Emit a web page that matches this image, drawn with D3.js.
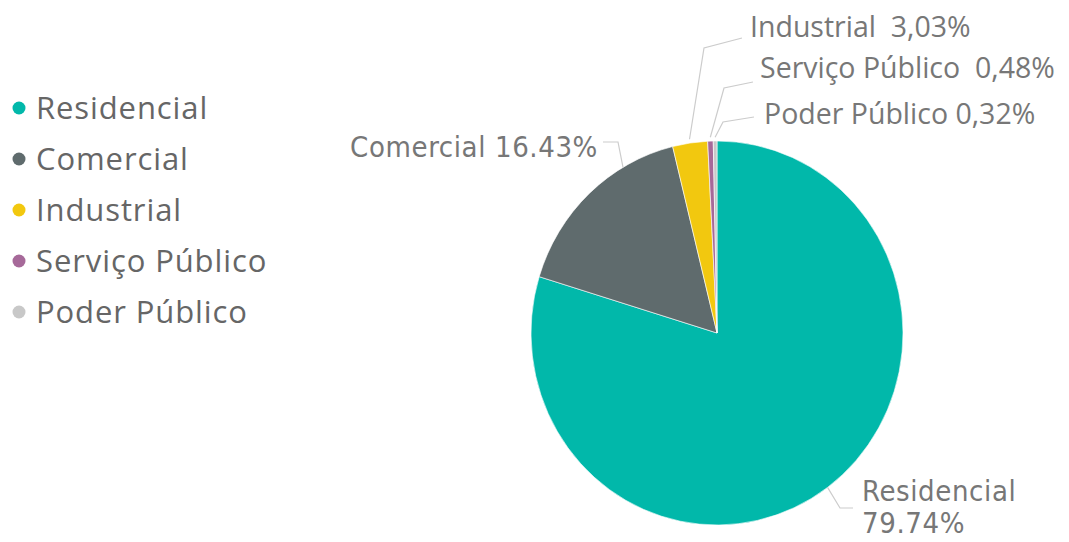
<!DOCTYPE html>
<html><head><meta charset="utf-8">
<script src="https://cdn.jsdelivr.net/npm/d3@7"></script>
<style>body{margin:0;background:#fff;} svg{display:block;}</style>
</head><body>
<svg id="c" width="1069" height="542"></svg>
<script>
const categories = ["Residencial","Comercial","Industrial","Serviço Público","Poder Público"];
const values = [79.74, 16.43, 3.03, 0.48, 0.32];
const valueLabels = ["79.74%","16.43%","3,03%","0,48%","0,32%"];
const colors = ["#01B8AA","#5F6B6D","#F2C80F","#A66999","#C8C8C8"];

const svg = d3.select("#c");
const cx = 717, cy = 333, rx = 186, ry = 192;

const pie = d3.pie().sort(null).value(d => d)(values);
const arc = d3.arc().innerRadius(0).outerRadius(rx);
const color = d3.scaleOrdinal().domain(categories).range(colors);

const g = svg.append("g").attr("transform", `translate(${cx},${cy}) scale(1,${ry/rx})`);
g.selectAll("path").data(pie).join("path")
  .attr("d", arc).attr("fill", (d,i) => color(categories[i]))
  .attr("stroke", "#fff").attr("stroke-width", 0.6);

// legend
const leg = svg.append("g");
const legY = d3.scalePoint().domain(categories).range([108, 312]);
categories.forEach(c => {
  leg.append("circle").attr("cx", 19).attr("cy", legY(c)).attr("r", 6.5).attr("fill", color(c));
  leg.append("text").attr("x", 36).attr("y", legY(c)).attr("dy", "0.36em")
    .attr("font-family", "'Open Sans', sans-serif").attr("font-size", 31)
    .attr("letter-spacing", 0.9)
    .attr("fill", "#666").text(c);
});

const din = "'DejaVu Sans Condensed','DejaVu Sans',sans-serif";
const seg = "'Open Sans',sans-serif";
// label layout: text position, where on the slice the leader starts, elbow offset (relative to text start)
const layout = [
  {x: 862, y: 501, frac: 0.5, lines: 2, lh: 32, font: din, size: 29, ls: 0.6, sep: " ", elbow: [-22, 7], end: [-9, 7]},
  {x: 598, y: 157, frac: 0.72, anchor: "end", font: din, size: 29, ls: 0.6, sep: " ", elbow: [20, -15], end: [5, -15]},
  {x: 750, y: 37, frac: 0.5, font: seg, size: 28.5, ls: 0, sep: "\u00a0\u00a0", elbow: [-46, 11], end: [-8, 1]},
  {x: 760, y: 78, frac: 0.5, font: seg, size: 28.5, ls: 0, sep: "\u00a0\u00a0", elbow: [-36, 10], end: [-7, 4]},
  {x: 764, y: 124, frac: 0.5, font: seg, size: 28.5, ls: 0, sep: " ", elbow: [-41, -2], end: [-10, -7]}
];
const pt = (a, k) => [cx + rx*k*Math.sin(a), cy - ry*k*Math.cos(a)];
const lab = svg.append("g");
pie.forEach((d, i) => {
  const L = layout[i];
  const a = d.startAngle + (d.endAngle - d.startAngle) * L.frac;
  const p0 = pt(a, i >= 2 ? 1.02 : 1.0);
  const pts = [p0, [L.x + L.elbow[0], L.y + L.elbow[1]], [L.x + L.end[0], L.y + L.end[1]]];
  lab.append("path").attr("d", d3.line()(pts)).attr("fill", "none")
    .attr("stroke", "#cccccc").attr("stroke-width", 1.2);
  const t = lab.append("text").attr("font-family", L.font).attr("font-size", L.size)
    .attr("letter-spacing", L.ls)
    .attr("fill", "#777").attr("text-anchor", L.anchor || "start");
  if (L.lines === 2) {
    t.append("tspan").attr("x", L.x).attr("y", L.y).text(categories[i]);
    t.append("tspan").attr("x", L.x).attr("y", L.y + L.lh).text(valueLabels[i]);
  } else {
    t.attr("x", L.x).attr("y", L.y).text(categories[i] + L.sep + valueLabels[i]);
  }
});
</script>
</body></html>
